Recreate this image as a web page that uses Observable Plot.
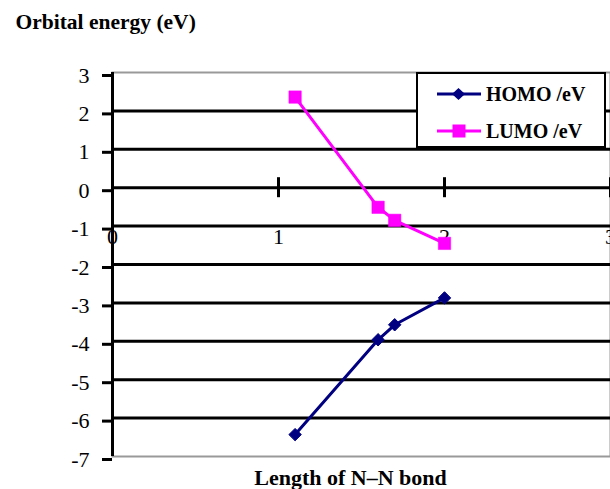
<!DOCTYPE html>
<html>
<head>
<meta charset="utf-8">
<script src="https://cdn.jsdelivr.net/npm/d3@7"></script>
<script src="https://cdn.jsdelivr.net/npm/@observablehq/plot@0.6"></script>
<style>
  html, body { margin: 0; padding: 0; background: #fff; }
  #wrap { position: relative; width: 610px; height: 489px; overflow: hidden; font-family: "Liberation Serif", "Times New Roman", serif; }
  #legend { position: absolute; left: 416px; top: 72px; width: 186px; height: 72px; border: 2.5px solid #000; background: #fff; }
  .row { position: absolute; left: 0; height: 24px; display: flex; align-items: center; }
  .row span { font-weight: bold; font-size: 20px; color: #000; margin-left: 5px; }
</style>
</head>
<body>
<div id="wrap"></div>
<script>
// Data
const bondLength = [1.1, 1.6, 1.7, 2.0];
const homo = [-6.43, -3.96, -3.57, -2.87];
const lumo = [2.36, -0.51, -0.85, -1.45];
const seriesNames = ["HOMO /eV", "LUMO /eV"];
const seriesColors = ["#000080", "#FF00FF"];
const yTicks = [-7, -6, -5, -4, -3, -2, -1, 0, 1, 2, 3];
const xTicks = [0, 1, 2, 3];
const yTitle = "Orbital energy (eV)";
const xTitle = "Length of N\u2013N bond";

const homoData = bondLength.map((x, i) => ({x, y: homo[i]}));
const lumoData = bondLength.map((x, i) => ({x, y: lumo[i]}));
const font = "Liberation Serif, Times New Roman, serif";

const chart = Plot.plot({
  width: 610,
  height: 489,
  marginLeft: 112,
  marginRight: 0,
  marginTop: 72,
  marginBottom: 33,
  style: {fontFamily: font, background: "#fff", overflow: "visible"},
  x: {domain: [0, 3]},
  y: {domain: [-7, 3]},
  marks: [
    Plot.frame({stroke: "#999", strokeWidth: 2}),
    Plot.ruleY(yTicks.filter(d => d > -7 && d < 3), {stroke: "#000", strokeWidth: 3}),
    Plot.ruleX(xTicks.slice(1), {y1: 0, y2: 0, insetTop: -10, insetBottom: -10, stroke: "#000", strokeWidth: 3}),
    Plot.ruleX([0], {stroke: "#000", strokeWidth: 3}),
    Plot.axisY({ticks: yTicks, tickSize: 10, tickPadding: 13, tickFormat: d => String(d).replace("\u2212", "-"), fontSize: 22, stroke: "#000", strokeWidth: 3, dy: 3, label: null, fill: "#000"}),
    Plot.axisX({ticks: [], label: null, tickSize: 0}),
    Plot.text(xTicks, {x: d => d, y: 0, dy: 49, text: d => String(d), fontSize: 22, fill: "#000"}),
    Plot.line(homoData, {x: "x", y: "y", stroke: seriesColors[0], strokeWidth: 3}),
    Plot.dot(homoData, {x: "x", y: "y", symbol: "diamond2", r: 5.6, fill: seriesColors[0], stroke: seriesColors[0], strokeWidth: 1}),
    Plot.line(lumoData, {x: "x", y: "y", stroke: seriesColors[1], strokeWidth: 3}),
    Plot.dot(lumoData, {x: "x", y: "y", symbol: "square", r: 7, fill: seriesColors[1], stroke: seriesColors[1], strokeWidth: 0.5}),
    Plot.text([yTitle], {frameAnchor: "top-left", dx: -97, dy: -44, lineAnchor: "bottom", textAnchor: "start", fontSize: 21.5, fontWeight: "bold", fill: "#000"}),
    Plot.text([xTitle], {frameAnchor: "bottom", dx: -11, dy: 28, lineAnchor: "bottom", fontSize: 22, fontWeight: "bold", fill: "#000"})
  ]
});

const wrap = document.getElementById("wrap");
wrap.appendChild(chart);

// Legend
const legend = document.createElement("div");
legend.id = "legend";
const rowTops = [8, 45];
seriesNames.forEach((name, i) => {
  const row = document.createElement("div");
  row.className = "row";
  row.style.top = rowTops[i] + "px";
  row.style.left = "19px";
  const sym = i === 0
    ? `<path d="M21.5,6 L28,12 L21.5,18 L15,12 Z" fill="${seriesColors[i]}"/>`
    : `<rect x="15.5" y="5.5" width="13" height="13" fill="${seriesColors[i]}"/>`;
  row.innerHTML = `<svg width="44" height="24"><line x1="0" y1="12" x2="44" y2="12" stroke="${seriesColors[i]}" stroke-width="3"/>${sym}</svg><span>${name}</span>`;
  legend.appendChild(row);
});
wrap.appendChild(legend);
</script>
</body>
</html>
